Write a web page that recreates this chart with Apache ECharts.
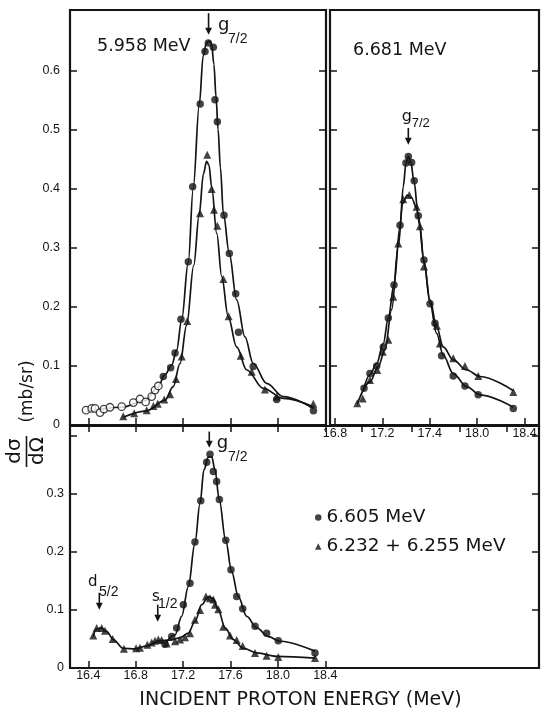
<!DOCTYPE html>
<html>
<head>
<meta charset="utf-8" />
<title>Proton resonances</title>
<script src="https://cdn.jsdelivr.net/npm/echarts@6/dist/echarts.min.js"></script>
<style>
  html, body { margin: 0; padding: 0; background: #fff; }
  #chart { width: 542px; height: 710px; }
</style>
</head>
<body>
<div id="chart"></div>
<script>

// ---------- data (incident proton energy MeV, dsigma/dOmega mb/sr) ----------

// top-left panel, 5.958 MeV
var tlDots = [[17.033,0.082],[17.095,0.097],[17.132,0.122],[17.182,0.179],[17.244,0.276],[17.281,0.403],[17.344,0.543],[17.385,0.632],[17.413,0.646],[17.455,0.639],[17.469,0.550],[17.489,0.513],[17.545,0.355],[17.59,0.290],[17.644,0.222],[17.668,0.157],[17.792,0.099],[17.99,0.043],[18.30,0.024]];
var tlOpen = [[16.381,0.025],[16.429,0.028],[16.457,0.028],[16.499,0.021],[16.532,0.027],[16.583,0.030],[16.682,0.031],[16.78,0.038],[16.836,0.044],[16.884,0.039],[16.935,0.048],[16.963,0.059],[16.991,0.066]];
var tlTris = [[16.695,0.015],[16.788,0.020],[16.893,0.025],[16.949,0.032],[16.986,0.036],[17.041,0.043],[17.09,0.052],[17.14,0.078],[17.188,0.116],[17.235,0.176],[17.343,0.358],[17.404,0.457],[17.441,0.399],[17.461,0.364],[17.489,0.337],[17.54,0.247],[17.584,0.184],[17.686,0.117],[17.779,0.090],[17.89,0.060],[17.99,0.048],[18.299,0.036]];
var tlDotFit = [[16.386,0.0225],[16.682,0.030],[16.887,0.042],[16.986,0.064],[17.047,0.085],[17.104,0.1015],[17.146,0.127],[17.188,0.178],[17.244,0.276],[17.285,0.40],[17.337,0.543],[17.37,0.625],[17.395,0.645],[17.419,0.650],[17.44,0.645],[17.46,0.61],[17.478,0.555],[17.495,0.50],[17.515,0.435],[17.54,0.357],[17.59,0.29],[17.652,0.2115],[17.722,0.149],[17.792,0.104],[17.905,0.0705],[18.046,0.048],[18.299,0.028]];
var tlTriFit = [[16.695,0.013],[16.893,0.024],[17.047,0.042],[17.117,0.065],[17.174,0.104],[17.23,0.169],[17.29,0.27],[17.335,0.355],[17.372,0.425],[17.398,0.446],[17.418,0.44],[17.441,0.403],[17.484,0.324],[17.526,0.251],[17.581,0.183],[17.652,0.132],[17.737,0.093],[17.877,0.062],[18.046,0.045],[18.299,0.031]];

// top-right panel, 6.681 MeV
var trDots = [[17.045,0.062],[17.095,0.087],[17.152,0.100],[17.208,0.132],[17.25,0.181],[17.298,0.237],[17.349,0.338],[17.399,0.443],[17.419,0.454],[17.447,0.444],[17.469,0.413],[17.503,0.354],[17.551,0.279],[17.602,0.205],[17.644,0.172],[17.70,0.117],[17.798,0.083],[17.897,0.066],[18.009,0.051],[18.305,0.028]];
var trTris = [[16.988,0.037],[17.034,0.045],[17.095,0.076],[17.157,0.093],[17.203,0.124],[17.25,0.144],[17.292,0.217],[17.334,0.307],[17.376,0.382],[17.427,0.389],[17.489,0.369],[17.517,0.336],[17.551,0.268],[17.66,0.168],[17.686,0.138],[17.798,0.113],[17.897,0.100],[18.009,0.083],[18.305,0.056]];
var trDotFit = [[17.039,0.059],[17.095,0.085],[17.152,0.104],[17.208,0.138],[17.25,0.181],[17.298,0.237],[17.349,0.336],[17.376,0.403],[17.399,0.442],[17.419,0.455],[17.439,0.446],[17.467,0.412],[17.503,0.354],[17.551,0.279],[17.602,0.206],[17.658,0.155],[17.714,0.118],[17.798,0.087],[17.911,0.065],[18.024,0.051],[18.305,0.030]];
var trTriFit = [[16.988,0.0355],[17.095,0.073],[17.165,0.099],[17.222,0.127],[17.278,0.195],[17.334,0.302],[17.371,0.375],[17.41,0.389],[17.447,0.384],[17.489,0.367],[17.517,0.336],[17.551,0.274],[17.602,0.212],[17.658,0.166],[17.714,0.132],[17.798,0.110],[17.911,0.093],[18.024,0.082],[18.305,0.058]];

// bottom panel
var btDots = [[17.047,0.041],[17.104,0.054],[17.146,0.069],[17.202,0.109],[17.258,0.146],[17.30,0.217],[17.349,0.288],[17.399,0.354],[17.427,0.368],[17.455,0.338],[17.483,0.321],[17.506,0.290],[17.56,0.220],[17.604,0.169],[17.652,0.123],[17.703,0.102],[17.807,0.072],[17.905,0.060],[18.003,0.047],[18.313,0.026]];
var btTris = [[16.442,0.056],[16.471,0.069],[16.513,0.069],[16.541,0.064],[16.606,0.050],[16.701,0.033],[16.803,0.034],[16.836,0.035],[16.898,0.040],[16.935,0.044],[16.963,0.047],[16.991,0.049],[17.019,0.048],[17.061,0.042],[17.132,0.046],[17.174,0.049],[17.216,0.053],[17.258,0.060],[17.30,0.083],[17.343,0.100],[17.393,0.123],[17.427,0.120],[17.455,0.118],[17.469,0.109],[17.497,0.101],[17.539,0.071],[17.596,0.056],[17.652,0.048],[17.703,0.038],[17.807,0.026],[17.905,0.021],[18.003,0.019],[18.313,0.017]];
var btDotFit = [[17.056,0.044],[17.132,0.057],[17.188,0.089],[17.244,0.140],[17.30,0.215],[17.343,0.284],[17.376,0.341],[17.413,0.363],[17.441,0.364],[17.469,0.341],[17.505,0.290],[17.559,0.220],[17.61,0.166],[17.666,0.123],[17.737,0.089],[17.821,0.069],[17.919,0.054],[18.018,0.046],[18.313,0.029]];
var btTriFit = [[16.442,0.054],[16.465,0.066],[16.505,0.069],[16.555,0.063],[16.611,0.049],[16.695,0.034],[16.794,0.033],[16.893,0.038],[17.005,0.047],[17.089,0.048],[17.174,0.052],[17.244,0.060],[17.30,0.080],[17.357,0.109],[17.413,0.123],[17.45,0.120],[17.497,0.100],[17.554,0.069],[17.624,0.049],[17.708,0.034],[17.821,0.026],[17.99,0.020],[18.313,0.017]];

var legendNames = ['6.605 MeV', '6.232 + 6.255 MeV'];

// ticks and labels
var tlTicks = [16.4, 16.8, 17.2, 17.6, 18.0, 18.4];
var trTicks = [16.8, 17.2, 17.6, 18.0, 18.4];
var trTickLabels = ['16.8', '17.2', '17.4', '18.0', '18.4'];
var trTopTicks = [17.03, 17.45, 17.85, 18.25];
var btTicks = [16.4, 16.8, 17.2, 17.6, 18.0, 18.4];
var btTickLabels = ['16.4', '16.8', '17.2', '17.6', '18.0', '18.4'];
var topYTicks = [0.1, 0.2, 0.3, 0.4, 0.5, 0.6];
var topYLabels = [0, 0.1, 0.2, 0.3, 0.4, 0.5, 0.6];
var btYTicks = [0.1, 0.2, 0.3, 0.4];
var btYLabels = [0, 0.1, 0.2, 0.3];

// resonance arrows: energy, arrow top / tip value, label text
var notes = [
  {xi: 0, yi: 0, e: 17.415, top: 0.6966, tip: 0.66, main: 'g', sub: '7/2', size: 18, subSize: 14, gx: 9.4, gy: 12.5, sx: 19.4, sy: 25.5},
  {xi: 2, yi: 2, e: 17.419, top: 0.5025, tip: 0.474, main: 'g', sub: '7/2', size: 16, subSize: 13, gx: -6.6, gy: -11, sx: 3.4, sy: -5},
  {xi: 4, yi: 4, e: 17.421, top: 0.407, tip: 0.379, main: 'g', sub: '7/2', size: 18, subSize: 14, gx: 7.4, gy: 12, sx: 18.7, sy: 26},
  {xi: 4, yi: 4, e: 16.493, top: 0.1296, tip: 0.1003, main: 'd', sub: '5/2', size: 15, subSize: 14, gx: -11.3, gy: -10.5, sx: -0.3, sy: -1},
  {xi: 4, yi: 4, e: 16.986, top: 0.109, tip: 0.0797, main: 's', sub: '1/2', size: 15, subSize: 14, gx: -5.7, gy: -8, sx: 0.3, sy: -1}
];

// ---------- chart ----------

var ink = '#141414';
var tickFont = 'Liberation Sans';
var textFont = 'DejaVu Sans';

function pick(ticks, labels) {
  return function (v) {
    for (var i = 0; i < ticks.length; i++) {
      if (Math.abs(ticks[i] - v) < 1e-6) return labels[i];
    }
    return '';
  };
}
function yFmt(v) { return v === 0 ? '0' : v.toFixed(1); }

function xAx(grid, min, max, pos, ticks, labels, margin) {
  return {
    type: 'value', gridIndex: grid, position: pos, min: min, max: max,
    splitLine: {show: false}, axisLine: {show: false},
    axisTick: {inside: true, length: 7, customValues: ticks, lineStyle: {color: ink, width: 1.5}},
    axisLabel: labels ? {
      show: true, customValues: ticks, margin: margin, color: ink,
      fontFamily: tickFont, fontSize: 12.5, formatter: pick(ticks, labels)
    } : {show: false}
  };
}
function yAx(grid, max, pos, ticks, labels, margin) {
  return {
    type: 'value', gridIndex: grid, position: pos, min: 0, max: max,
    splitLine: {show: false}, axisLine: {show: false},
    axisTick: {inside: true, length: 7, customValues: ticks, lineStyle: {color: ink, width: 1.5}},
    axisLabel: labels ? {
      show: true, customValues: labels, margin: margin, color: ink,
      fontFamily: tickFont, fontSize: 12.5, formatter: yFmt
    } : {show: false}
  };
}
function fit(name, xi, yi, data) {
  return {
    name: name, type: 'line', xAxisIndex: xi, yAxisIndex: yi, data: data,
    smooth: 0.35, smoothMonotone: 'x', showSymbol: false, symbol: 'none',
    lineStyle: {color: ink, width: 1.7}, silent: true, z: 2
  };
}
function pts(name, xi, yi, data, symbol, hollow) {
  return {
    name: name, type: 'scatter', xAxisIndex: xi, yAxisIndex: yi, data: data,
    symbol: symbol, symbolSize: symbol === 'triangle' ? 8 : 7.5,
    itemStyle: hollow ? {color: '#fff', borderColor: ink, borderWidth: 1.3} : {color: ink},
    silent: true, z: 3
  };
}

var gridBox = {show: true, borderColor: ink, borderWidth: 2.2, backgroundColor: 'transparent'};

var option = {
  animation: false,
  backgroundColor: '#fff',
  grid: [
    Object.assign({left: 70, top: 10, width: 256, height: 415}, gridBox),
    Object.assign({left: 330, top: 10, width: 209, height: 415}, gridBox),
    Object.assign({left: 70, top: 426, width: 469, height: 242}, gridBox)
  ],
  xAxis: [
    xAx(0, 16.2456, 18.406, 'bottom', tlTicks, null, 0),
    xAx(0, 16.2456, 18.406, 'top', tlTicks, null, 0),
    xAx(1, 16.758, 18.522, 'bottom', trTicks, trTickLabels, 2),
    xAx(1, 16.758, 18.522, 'top', trTopTicks, null, 0),
    xAx(2, 16.2456, 20.2034, 'bottom', btTicks, btTickLabels, 1)
  ],
  yAxis: [
    yAx(0, 0.702, 'left', topYTicks, topYLabels, 10),
    yAx(0, 0.702, 'right', topYTicks, null, 0),
    yAx(1, 0.702, 'left', topYTicks, null, 0),
    yAx(1, 0.702, 'right', topYTicks, null, 0),
    yAx(2, 0.4165, 'left', btYTicks, btYLabels, 6),
    yAx(2, 0.4165, 'right', btYTicks, null, 0)
  ],
  legend: {
    orient: 'vertical', left: 310, top: 503, itemWidth: 6.5, itemHeight: 6.5, itemGap: 10,
    selectedMode: false,
    textStyle: {color: ink, fontFamily: textFont, fontSize: 18.5},
    data: [{name: legendNames[0], icon: 'circle'}, {name: legendNames[1], icon: 'triangle'}]
  },
  series: [
    fit('tl dot fit', 0, 0, tlDotFit),
    fit('tl tri fit', 0, 0, tlTriFit),
    pts('tl dots', 0, 0, tlDots, 'circle', false),
    pts('tl open', 0, 0, tlOpen, 'circle', true),
    pts('tl tris', 0, 0, tlTris, 'triangle', false),
    fit('tr dot fit', 2, 2, trDotFit),
    fit('tr tri fit', 2, 2, trTriFit),
    pts('tr dots', 2, 2, trDots, 'circle', false),
    pts('tr tris', 2, 2, trTris, 'triangle', false),
    fit('bt dot fit', 4, 4, btDotFit),
    fit('bt tri fit', 4, 4, btTriFit),
    pts(legendNames[0], 4, 4, btDots, 'circle', false),
    pts(legendNames[1], 4, 4, btTris, 'triangle', false)
  ]
};

var chart = echarts.init(document.getElementById('chart'));
chart.setOption(option);

// titles, axis names and resonance arrows
var marks = [
  {type: 'text', x: 97, y: 46, style: {text: '5.958 MeV', fill: ink, fontFamily: textFont, fontSize: 17.5, verticalAlign: 'middle'}},
  {type: 'text', x: 353, y: 50, style: {text: '6.681 MeV', fill: ink, fontFamily: textFont, fontSize: 17.5, verticalAlign: 'middle'}},
  {type: 'text', x: 300.5, y: 700, style: {text: 'INCIDENT PROTON ENERGY (MeV)', fill: ink, fontFamily: textFont, fontSize: 19, align: 'center', verticalAlign: 'middle'}},
  {type: 'text', x: 27.5, y: 391.5, rotation: Math.PI / 2, style: {text: '(mb/sr)', fill: ink, fontFamily: textFont, fontSize: 17, align: 'center', verticalAlign: 'middle'}},
  {type: 'text', x: 15, y: 451, rotation: Math.PI / 2, style: {text: 'dσ', fill: ink, fontFamily: textFont, fontSize: 20, align: 'center', verticalAlign: 'middle'}},
  {type: 'text', x: 38, y: 451, rotation: Math.PI / 2, style: {text: 'dΩ', fill: ink, fontFamily: textFont, fontSize: 20, align: 'center', verticalAlign: 'middle'}},
  {type: 'line', shape: {x1: 26.5, y1: 436, x2: 26.5, y2: 467}, style: {stroke: ink, lineWidth: 1.6}}
];
notes.forEach(function (n) {
  var a = chart.convertToPixel({xAxisIndex: n.xi, yAxisIndex: n.yi}, [n.e, n.top]);
  var b = chart.convertToPixel({xAxisIndex: n.xi, yAxisIndex: n.yi}, [n.e, n.tip]);
  marks.push({type: 'line', shape: {x1: a[0], y1: a[1], x2: b[0], y2: b[1] - 5}, style: {stroke: ink, lineWidth: 1.6}});
  marks.push({type: 'polygon', shape: {points: [[b[0] - 3.4, b[1] - 7], [b[0] + 3.4, b[1] - 7], [b[0], b[1]]]}, style: {fill: ink}});
  marks.push({type: 'text', x: a[0] + n.gx, y: a[1] + n.gy, style: {text: n.main, fill: ink, fontFamily: textFont, fontSize: n.size, verticalAlign: 'middle'}});
  marks.push({type: 'text', x: a[0] + n.sx, y: a[1] + n.sy, style: {text: n.sub, fill: ink, fontFamily: tickFont, fontSize: n.subSize, verticalAlign: 'middle'}});
});
chart.setOption({graphic: marks.map(function (m) { m.silent = true; m.z = 10; return m; })});

</script>
</body>
</html>
